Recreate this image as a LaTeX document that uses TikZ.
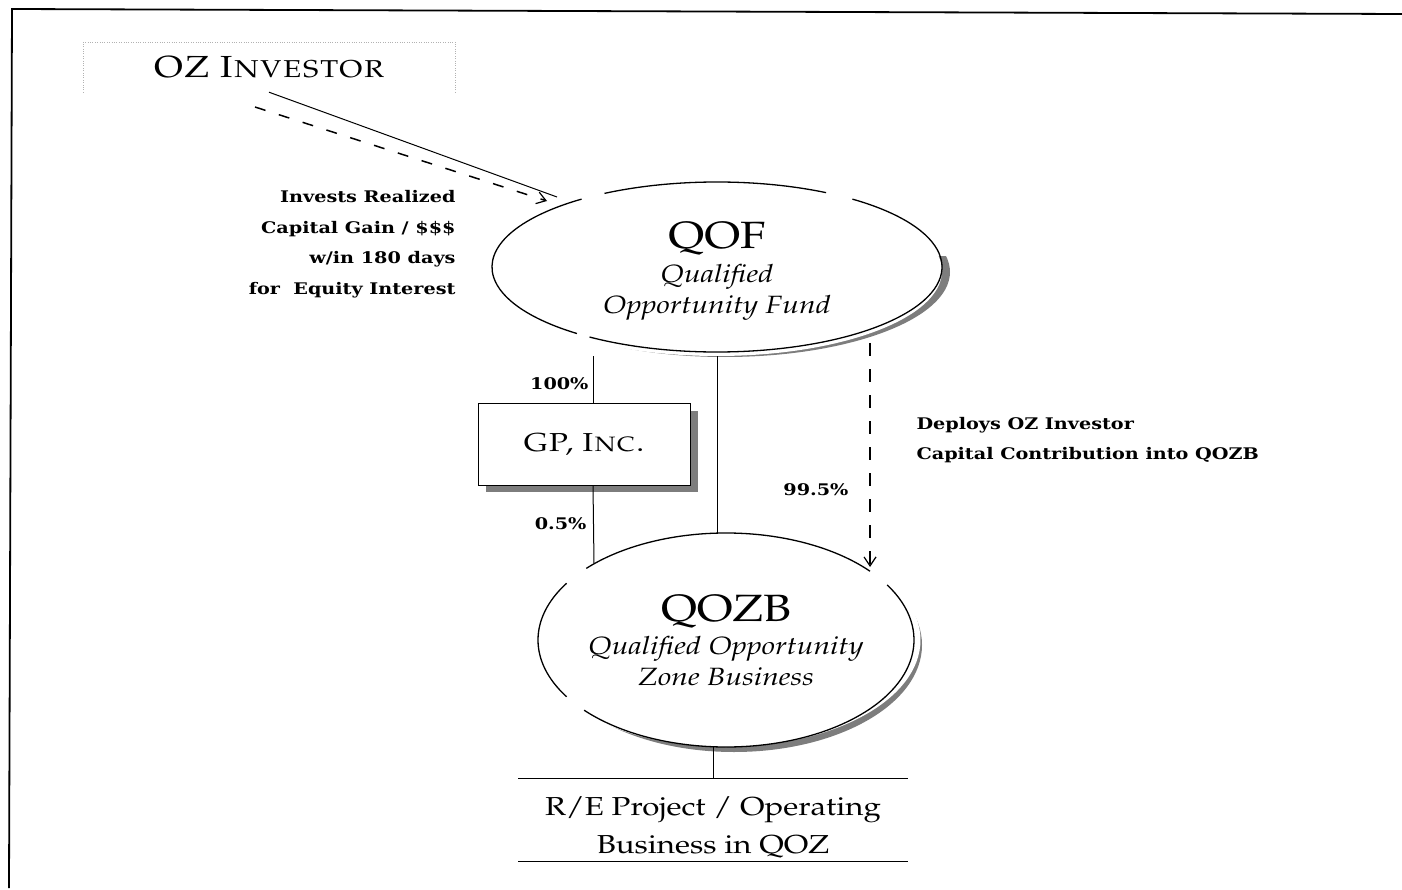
\documentclass[tikz,border=0pt]{standalone}
\usepackage[T1]{fontenc}
\usepackage{fontspec}
\usetikzlibrary{arrows.meta, positioning, shapes.geometric, calc, backgrounds}
\newfontfamily\lblfont[FakeStretch=1.2]{DejaVu Serif}
\newcommand\pal{\fontencoding{T1}\fontfamily{ppl}\selectfont}
\newcommand\wide[1]{\scalebox{1.2}[1]{#1}}
\definecolor{shade}{RGB}{125,125,125}

\begin{document}
\begin{tikzpicture}[x=1pt, y=1pt,
  oval/.style={ellipse, fill=white, inner sep=0pt, align=center,
               font=\pal\itshape\fontsize{25}{31}\selectfont},
  gpbox/.style={rectangle, draw, fill=white, line width=0.9pt,
                minimum width=212pt, minimum height=82pt,
                font=\pal\fontsize{26}{30}\selectfont},
  lbl/.style={font=\lblfont\bfseries\fontsize{16}{30.5}\selectfont},
  conn/.style={line width=1pt},
  rim/.style={line width=1.3pt},
  shadow/.style={fill=shade},
  dconn/.style={line width=1.5pt, dash pattern=on 11pt off 14pt,
                -{Straight Barb[length=9pt, width=12pt, line width=1.2pt]}}
]
\useasboundingbox (0,0) rectangle (1402,-890);
% page frame
\draw[line width=1.8pt] (9,-888) -- (12,-9) -- (1402,-14);

% investor box
\node[font=\pal\fontsize{30.5}{36}\selectfont, minimum width=372pt,
      minimum height=50pt] (inv) at (269,-67) {\wide{\textsc{OZ Investor}}};
\draw[gray!60, dotted] (inv.south west) -- (inv.north west)
  -- (inv.north east) -- (inv.south east);

% fund
\node[oval, minimum width=450pt, minimum height=170pt] (qof) at (717,-271)
  {{\upshape\fontsize{38}{38}\selectfont\wide{QOF}}\\[3pt]
   \wide{Qualified}\\ \wide{Opportunity Fund}};
\coordinate (qofc) at ($(qof.center)+(0,4)$);
\draw[rim] ($(qofc)+(61:225 and 85)$)
  arc[start angle=61, end angle=120, x radius=225, y radius=85];
\draw[rim] ($(qofc)+(127:225 and 85)$)
  arc[start angle=127, end angle=231.5, x radius=225, y radius=85];
\draw[rim] ($(qofc)+(235.5:225 and 85)$)
  arc[start angle=235.5, end angle=413, x radius=225, y radius=85];

% zone business
\node[oval, minimum width=376pt, minimum height=214pt] (qozb) at (726,-640)
  {{\upshape\fontsize{38}{38}\selectfont\wide{QOZB}}\\[2pt]
   \wide{Qualified Opportunity}\\ \wide{Zone Business}};
\draw[rim] ($(qozb.center)+(40:188 and 107)$)
  arc[start angle=40, end angle=138, x radius=188, y radius=107];
\draw[rim] ($(qozb.center)+(148:188 and 107)$)
  arc[start angle=148, end angle=212, x radius=188, y radius=107];
\draw[rim] ($(qozb.center)+(221:188 and 107)$)
  arc[start angle=221, end angle=391, x radius=188, y radius=107];

% general partner
\node[gpbox] (gp) at (584,-444) {\wide{\textsc{GP, Inc.}}};

% project
\node[font=\pal\fontsize{26}{38}\selectfont, align=center,
      minimum width=389pt, minimum height=83pt] (re) at (713,-827)
  {\wide{R/E Project / Operating}\\ \wide{Business in QOZ}};
\coordinate (retop) at ($(re.north)+(0,7)$);
\draw[conn] ($(re.north west)+(0,7)$) -- ($(re.north east)+(0,7)$);
\draw[conn] ($(re.south west)+(0,7)$) -- ($(re.south east)+(0,7)$);

% shadows
\begin{scope}[on background layer]
  \begin{scope}
    \clip ($(qofc)+(-240,10)$) rectangle ($(qofc)+(250,-100)$);
    \fill[shadow] ($(qofc)+(8,-5)$) ellipse[x radius=225, y radius=85];
  \end{scope}
  \begin{scope}
    \clip ($(qozb.center)+(-200,45)$) rectangle ($(qozb.center)+(210,-120)$);
    \fill[shadow] ($(qozb.center)+(8,-5)$) ellipse[x radius=188, y radius=107];
  \end{scope}
  \fill[shadow] ($(gp.south west)+(8,-7)$) rectangle ($(gp.north east)+(8,-8)$);
\end{scope}

% ownership lines
\coordinate (lx) at (593,0);
\coordinate (qzl) at ($(qozb.center)+(134.6:188 and 107)$);
\draw[conn] (qof.south -| lx) -- (gp.north -| lx);
\draw[conn] (gp.south -| lx) -- (qzl);
\draw[conn] (qof.south) -- (qof.south |- qozb.north);
\draw[conn] (retop |- qozb.south) -- (retop);

\node[lbl, anchor=east] (p100) at (592,-384) {100\%};
\node[lbl, anchor=east] (p05) at (590,-524) {0.5\%};
\node[lbl, anchor=east] (p995) at (852,-490) {99.5\%};

% money flows
\coordinate (qin) at (557,-197);
\coordinate (dst) at (255,-107);
\coordinate (dend) at (547,-201);
\draw[conn] (inv.south) -- (qin);
\draw[dconn] (dst) -- (dend);

\coordinate (dtop) at (870,-343);
\coordinate (dbot) at (870,-567);
\draw[dconn, dash pattern=on 13pt off 13pt] (dtop) -- (dbot);

\node[lbl, align=right, anchor=east] (invlbl) at (459,-244)
  {Invests Realized\\Capital Gain / \$\$\$\\w/in 180 days\\for~ Equity Interest};
\node[lbl, align=left, anchor=west] (deplbl) at (913,-440)
  {Deploys OZ Investor\\Capital Contribution into QOZB};
\end{tikzpicture}
\end{document}
